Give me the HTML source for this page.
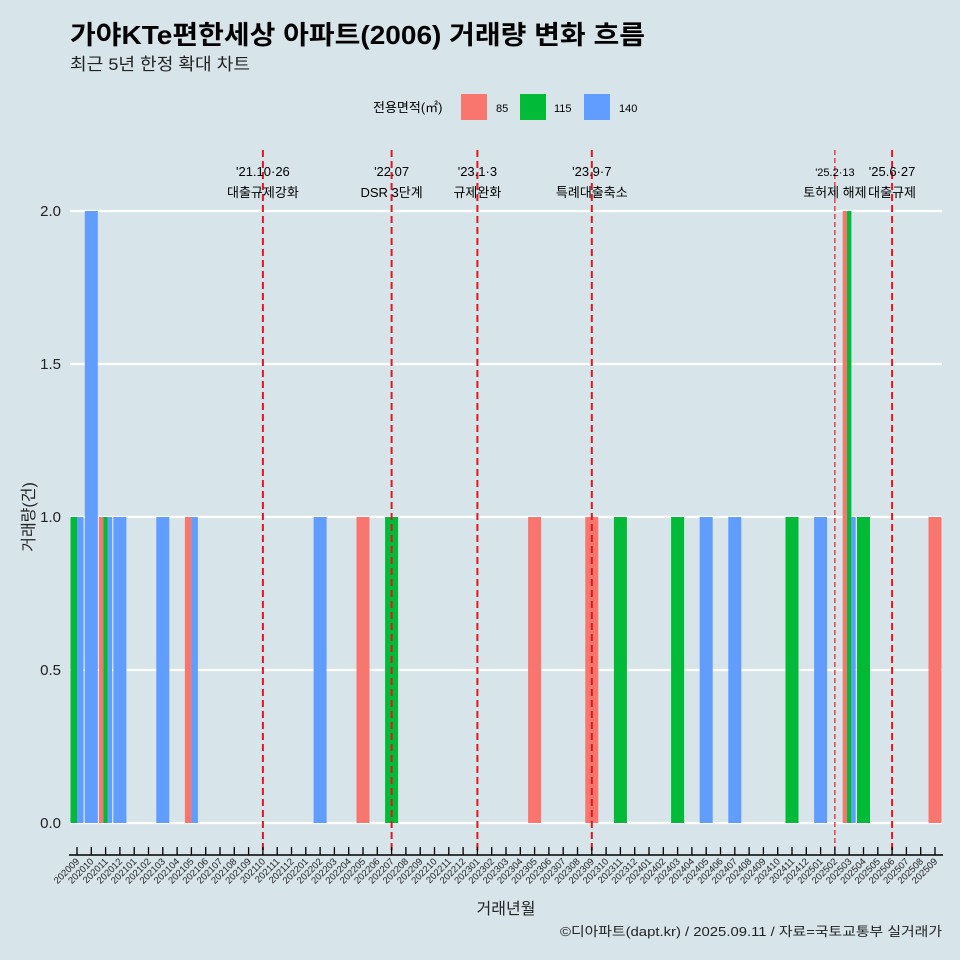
<!DOCTYPE html>
<html><head><meta charset="utf-8"><style>
body{margin:0;background:#d7e4ea;font-family:"Liberation Sans","Noto Sans CJK KR",sans-serif;overflow:hidden;}
svg{display:block;}
svg text{font-family:"Liberation Sans","Noto Sans CJK KR",sans-serif;}
</style></head><body>
<svg id="chart" width="960" height="960" xmlns="http://www.w3.org/2000/svg">
<rect width="960" height="960" fill="#d7e4ea"/>
<text x="70" y="44" font-size="26" font-weight="bold" fill="#000" textLength="575" lengthAdjust="spacingAndGlyphs">가야KTe편한세상 아파트(2006) 거래량 변화 흐름</text>
<text x="70" y="70" font-size="17" fill="#222" textLength="180" lengthAdjust="spacingAndGlyphs">최근 5년 한정 확대 차트</text>
<g>
<text x="373" y="112" font-size="13" fill="#000">전용면적(㎡)</text>
<rect x="461" y="94" width="26" height="26" fill="#f8766d"/>
<text x="496" y="112" font-size="11">85</text>
<rect x="520" y="94" width="26" height="26" fill="#00ba38"/>
<text x="554" y="112" font-size="11">115</text>
<rect x="584" y="94" width="26" height="26" fill="#619cff"/>
<text x="619" y="112" font-size="11">140</text>
</g>
<g id="grid"></g><g id="bars"></g><g id="events"></g><g id="axes"></g>
<text transform="translate(34,517) rotate(-90)" text-anchor="middle" font-size="16" fill="#222">거래량(건)</text>
<text x="506" y="914" text-anchor="middle" font-size="16" fill="#222">거래년월</text>
<text x="560" y="936" font-size="13" fill="#222" textLength="382" lengthAdjust="spacingAndGlyphs">©디아파트(dapt.kr) / 2025.09.11 / 자료=국토교통부 실거래가</text>
</svg>
<script>
const months=[];for(let y=2020;y<=2025;y++)for(let m=1;m<=12;m++){const k=y*100+m;if(k>=202009&&k<=202509)months.push(String(k));}
const areaTypes=["85","115","140"];
const barMonths=["202009","202009","202010","202011","202011","202011","202012","202103","202105","202105","202202","202205","202207","202305","202309","202311","202403","202405","202407","202411","202501","202503","202503","202503","202504","202509"];
const barAreas=["115","140","140","85","115","140","140","140","85","140","140","85","115","85","85","115","115","140","140","115","140","85","115","140","115","85"];
const barCounts=[1,1,2,1,1,1,1,1,1,1,1,1,1,1,1,1,1,1,1,1,1,2,2,1,1,1];
const yTicks=[0,0.5,1,1.5,2];
const eventMonths=["202110","202207","202301","202309","202502","202506"];
const eventDates=["'21.10·26","'22.07","'23.1·3","'23.9·7","'25.2·13","'25.6·27"];
const eventNames=["대출규제강화","DSR 3단계","규제완화","특례대출축소","토허제 해제","대출규제"];
const colors={"85":"#f8766d","115":"#00ba38","140":"#619cff"};
const NS="http://www.w3.org/2000/svg";
const step=14.3,bw=13;
function xs(m){return 77+months.indexOf(m)*step;}
function ys(v){return 823-v*306;}
function mk(t,a,p){const e=document.createElementNS(NS,t);for(const k in a)e.setAttribute(k,a[k]);p.appendChild(e);return e;}
const grid=document.getElementById('grid'),bars=document.getElementById('bars'),ev=document.getElementById('events'),ax=document.getElementById('axes');
yTicks.forEach(v=>{
 const l=mk('line',{x1:70,x2:942,y1:ys(v),y2:ys(v),stroke:'#fff','stroke-width':2.2},grid);
 
 
 const t=mk('text',{x:61,y:ys(v)+5,'text-anchor':'end','font-size':15,fill:'#222'},grid);t.textContent=v.toFixed(1);
 
 
});
barMonths.forEach((m,i)=>{
 const group=[];barMonths.forEach((mm,j)=>{if(mm===m)group.push(j);});
 group.sort((a,b)=>areaTypes.indexOf(barAreas[a])-areaTypes.indexOf(barAreas[b]));
 const n=group.length,w=bw/n,pos=group.indexOf(i);
 const x0=xs(m)-bw/2+pos*w;
 const r=mk('rect',{x:x0,y:ys(barCounts[i]),width:w,height:ys(0)-ys(barCounts[i]),fill:colors[barAreas[i]]},bars);
 
 
});
eventMonths.forEach((m,i)=>{
 const x=xs(m);const thin=m==="202502";
 const l=mk('line',{x1:x,x2:x,y1:150,y2:855,stroke:'#e8141c','stroke-width':thin?1.2:2,'stroke-dasharray':thin?'5,3':'7,4'},ev);
 
 
 const t1=mk('text',{x:x,y:176,'text-anchor':'middle','font-size':thin?11:13,fill:'#000'},ev);t1.textContent=eventDates[i];
 
 
 const t2=mk('text',{x:x,y:197,'text-anchor':'middle','font-size':13,fill:'#000'},ev);t2.textContent=eventNames[i];
 
 
});
const al=mk('line',{x1:69,x2:943,y1:855,y2:855,stroke:'#000','stroke-width':1.5},ax);


months.forEach(m=>{
 const x=xs(m);
 const tk=mk('line',{x1:x,x2:x,y1:847,y2:855,stroke:'#000','stroke-width':1.3},ax);
 
 
 const t=mk('text',{transform:`translate(${x+3},${862}) rotate(-45)`,'text-anchor':'end','font-size':9.5,fill:'#222'},ax);t.textContent=m;
 
 
});
</script>
</body></html>
